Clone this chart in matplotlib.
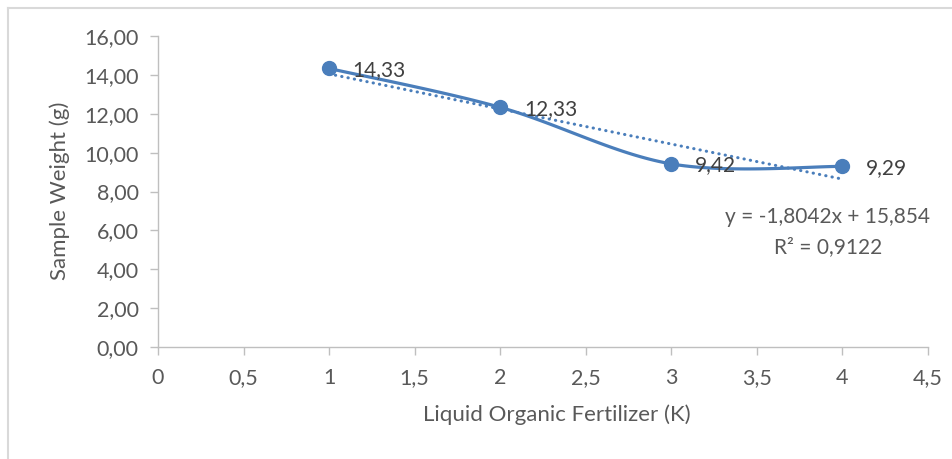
import numpy as np
import matplotlib
matplotlib.use("Agg")
import matplotlib.pyplot as plt
from matplotlib.lines import Line2D

# ---- data ----
x_vals = [1, 2, 3, 4]
y_vals = [14.33, 12.33, 9.42, 9.29]
point_labels = ["14,33", "12,33", "9,42", "9,29"]
trend_slope = -1.8042
trend_intercept = 15.854
eq_text = "y = -1,8042x + 15,854"
r2_text = "R² = 0,9122"
x_ticks = [0, 0.5, 1, 1.5, 2, 2.5, 3, 3.5, 4, 4.5]
x_ticklabels = ["0", "0,5", "1", "1,5", "2", "2,5", "3", "3,5", "4", "4,5"]
y_ticks = [0, 2, 4, 6, 8, 10, 12, 14, 16]
y_ticklabels = ["0,00", "2,00", "4,00", "6,00", "8,00", "10,00", "12,00", "14,00", "16,00"]
x_title = "Liquid Organic Fertilizer (K)"
y_title = "Sample Weight (g)"

plt.rcParams['font.family'] = ['Lato', 'DejaVu Sans']
TXT = '#595959'
BLUE = '#4a7ebb'
GRID = '#bfbfbf'

W, H = 953, 459
fig = plt.figure(figsize=(W/100, H/100), dpi=100)
ax = fig.add_axes([158/W, 1-347/H, (928-158)/W, (347-36)/H])

# smooth curve (Catmull-Rom style bezier as in Excel smoothing)
def smooth(xs, ys, n=40):
    P = np.column_stack([xs, ys]).astype(float)
    Pe = np.vstack([P[0], P, P[-1]])
    out = []
    for i in range(len(P)-1):
        p0, p1, p2, p3 = Pe[i], Pe[i+1], Pe[i+2], Pe[i+3]
        c1 = p1 + (p2 - p0)/6
        c2 = p2 - (p3 - p1)/6
        t = np.linspace(0, 1, n)[:, None]
        seg = (1-t)**3*p1 + 3*(1-t)**2*t*c1 + 3*(1-t)*t**2*c2 + t**3*p2
        out.append(seg if i == 0 else seg[1:])
    return np.vstack(out)

curve = smooth(x_vals, y_vals)
ax.plot(curve[:, 0], curve[:, 1], color=BLUE, lw=2.3, solid_capstyle='round', zorder=3)
ax.plot(x_vals, y_vals, 'o', color=BLUE, markersize=10, zorder=4)

tx = np.array([x_vals[0], x_vals[-1]])
ax.plot(tx, trend_slope*tx + trend_intercept, color=BLUE, lw=2.2,
        linestyle=(0, (0.1, 2.0)), dash_capstyle='round', zorder=2)

for xv, yv, lab in zip(x_vals, y_vals, point_labels):
    ax.annotate(lab, (xv, yv), xytext=(17, -1), textcoords='offset points',
                ha='left', va='center', fontsize=15, color='#404040', zorder=5)

fig.text(828/W, 1-217/H, eq_text, ha='center', va='center', fontsize=15, color=TXT)
fig.text(828/W, 1-247/H, r2_text, ha='center', va='center', fontsize=15, color=TXT)

ax.set_xlim(0, 4.5)
ax.set_ylim(0, 16)
ax.set_xticks(x_ticks)
ax.set_xticklabels(x_ticklabels)
ax.set_yticks(y_ticks)
ax.set_yticklabels(y_ticklabels)
ax.tick_params(axis='both', colors=GRID, labelcolor=TXT, labelsize=15.5,
               length=6, width=1, direction='out')
ax.tick_params(axis='y', pad=8)
ax.tick_params(axis='x', pad=9)
for s in ['top', 'right']:
    ax.spines[s].set_visible(False)
for s in ['left', 'bottom']:
    ax.spines[s].set_color(GRID)
    ax.spines[s].set_linewidth(1)

fig.text(557/W, 1-415/H, x_title, ha='center', va='center', fontsize=16, color=TXT)
fig.text(60/W, 1-191/H, y_title, ha='center', va='center', fontsize=16, color=TXT, rotation=90)

# outer frame (top and left lines)
fig.add_artist(Line2D([8/W, 1], [1-8/H, 1-8/H], color='#d9d9d9', lw=1.5, transform=fig.transFigure))
fig.add_artist(Line2D([8/W, 8/W], [0, 1-8/H], color='#d9d9d9', lw=1.5, transform=fig.transFigure))

fig.savefig("out.png", dpi=100)
